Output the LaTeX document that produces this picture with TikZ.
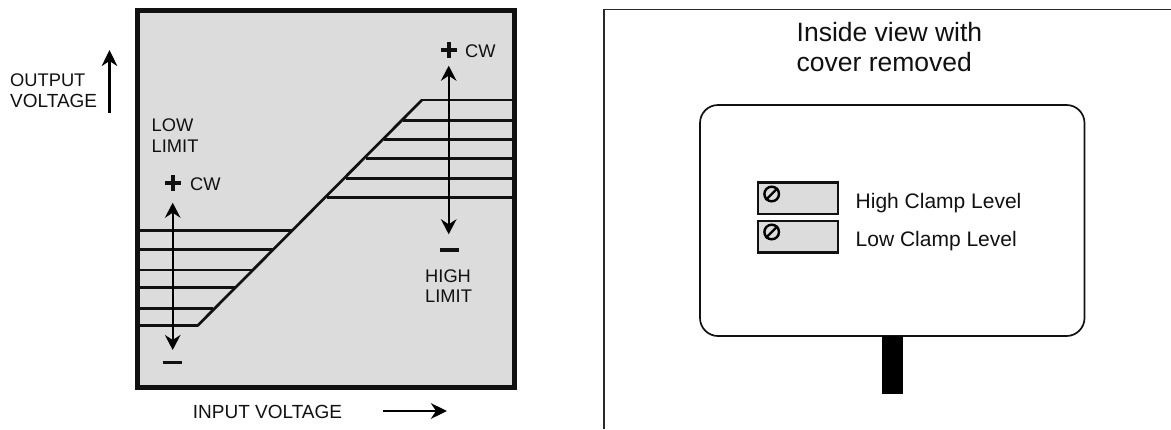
\documentclass[tikz,border=0pt]{standalone}
\usepackage{fontspec}
\setmainfont{Liberation Sans}
\usetikzlibrary{arrows.meta}
\definecolor{panel}{HTML}{DCDCDC}
\definecolor{ink}{HTML}{111111}
\tikzset{
  x=1pt,y=-1pt,
  lab/.style={anchor=base west,inner sep=0pt,text=ink,font=\fontsize{18.3}{21}\selectfont,align=left},
  labw/.style={lab,font=\fontsize{19}{21}\selectfont},
  labr/.style={anchor=base west,inner sep=0pt,text=ink,font=\fontsize{21}{25}\selectfont},
  labt/.style={anchor=base west,inner sep=0pt,text=ink,font=\fontsize{26.5}{30}\selectfont},
  ruleline/.style={line width=2.7pt,draw=ink,line cap=butt},
  head/.style={-{Stealth[length=16pt,width=15.5pt,inset=5pt]},line width=2.4pt,draw=black},
  twohead/.style={{Stealth[length=15pt,width=15.5pt,inset=5pt]}-{Stealth[length=15pt,width=15.5pt,inset=5pt]},line width=2.4pt,draw=black},
  screw/.style={circle,draw=black,line width=2.4pt,minimum size=14.6pt,inner sep=0pt,fill=panel},
  trim/.style={rectangle,draw=ink,line width=2.2pt,fill=panel,minimum width=80pt,minimum height=31.5pt,inner sep=0pt}
}
\begin{document}
\begin{tikzpicture}
\useasboundingbox (0,0) rectangle (1171,429);
\fill[white] (0,0) rectangle (1171,429);
% left panel
\draw[line width=5pt,draw=ink,fill=panel] (137,10.5) rectangle (514,387.5);
% low limit lines
\foreach \y/\x [count=\i] in {230.7/292,249.7/273,270/253,287.7/235,308.3/213,325.7/197.5}{
  \coordinate (la\i) at (139,\y); \coordinate (lb\i) at (\x,\y);
  \draw[ruleline] (la\i) -- (lb\i);
}
\foreach \y/\x [count=\i] in {100/422,120.7/403,139.3/384,158.7/366,178.3/346,197.7/327}{
  \coordinate (ha\i) at (512,\y); \coordinate (hb\i) at (\x,\y);
  \draw[ruleline] (ha\i) -- (hb\i);
}
\coordinate (d1) at (197.5,325.7); \coordinate (d2) at (422,100);
\draw[ruleline,line cap=round] (d1) -- (d2);
% vertical adjust arrows
\coordinate (lowtop) at (172.7,202.7); \coordinate (lowbot) at (172.7,350);
\coordinate (hightop) at (448.7,65.7); \coordinate (highbot) at (448.7,234.3);
\draw[twohead] (lowtop) -- (lowbot);
\draw[twohead] (hightop) -- (highbot);
% plus and minus
\fill[ink] (164.7,180.7) rectangle (180.7,184.7);
\fill[ink] (170.7,174.7) rectangle (174.7,190.7);
\fill[ink] (440.7,48) rectangle (456.7,52);
\fill[ink] (446.7,42) rectangle (450.7,58);
\fill[ink] (163.3,360.6) rectangle (182,364);
\fill[ink] (440,248.3) rectangle (459,251.7);
% labels
\node[lab] (cwl) at (190,190) {CW};
\node[lab] (cwh) at (465,57) {CW};
\node[lab] (lowa) at (151.5,131.7) {LOW};
\node[lab] (lowb) at (151.5,152.7) {LIMIT};
\node[lab] (higha) at (425,282.7) {HIGH};
\node[lab] (highb) at (425,302.7) {LIMIT};
\node[lab] (outa) at (10,86) {OUTPUT};
\node[labw] (outb) at (10,107) {VOLTAGE};
\node[labw] (inp) at (192.7,418.5) {INPUT VOLTAGE};
% axis arrows
\coordinate (oa) at (109.5,113); \coordinate (ob) at (109.5,50);
\draw[head] (oa) -- (ob);
\coordinate (ia) at (383,411); \coordinate (ib) at (447,411);
\draw[head] (ia) -- (ib);
% right panel
\coordinate (fa) at (604,429); \coordinate (fb) at (604,9.5); \coordinate (fc) at (1171,9.5);
\draw[line width=1.7pt,draw=ink!90] (fa) -- (fb) -- (fc);
\node[labt] (ta) at (796.5,41.7) {Inside view with};
\node[labt] (tb) at (796.5,71.7) {cover removed};
\draw[line width=1.7pt,draw=ink,rounded corners=18pt] (700,105) rectangle (1084.5,336);
\fill[black] (882,335.5) rectangle (902.5,394);
\node[trim] (t1) at (798,198.3) {};
\node[trim] (t2) at (798,236.7) {};
\node[screw] (s1) at (771.7,194) {};
\node[screw] (s2) at (771.7,232) {};
\draw[line width=2.4pt,draw=black] (s1.south west) -- (s1.north east);
\draw[line width=2.4pt,draw=black] (s2.south west) -- (s2.north east);
\node[labr] (hc) at (855.5,208.3) {High Clamp Level};
\node[labr] (lc) at (855.5,246.7) {Low Clamp Level};
\end{tikzpicture}
\end{document}
